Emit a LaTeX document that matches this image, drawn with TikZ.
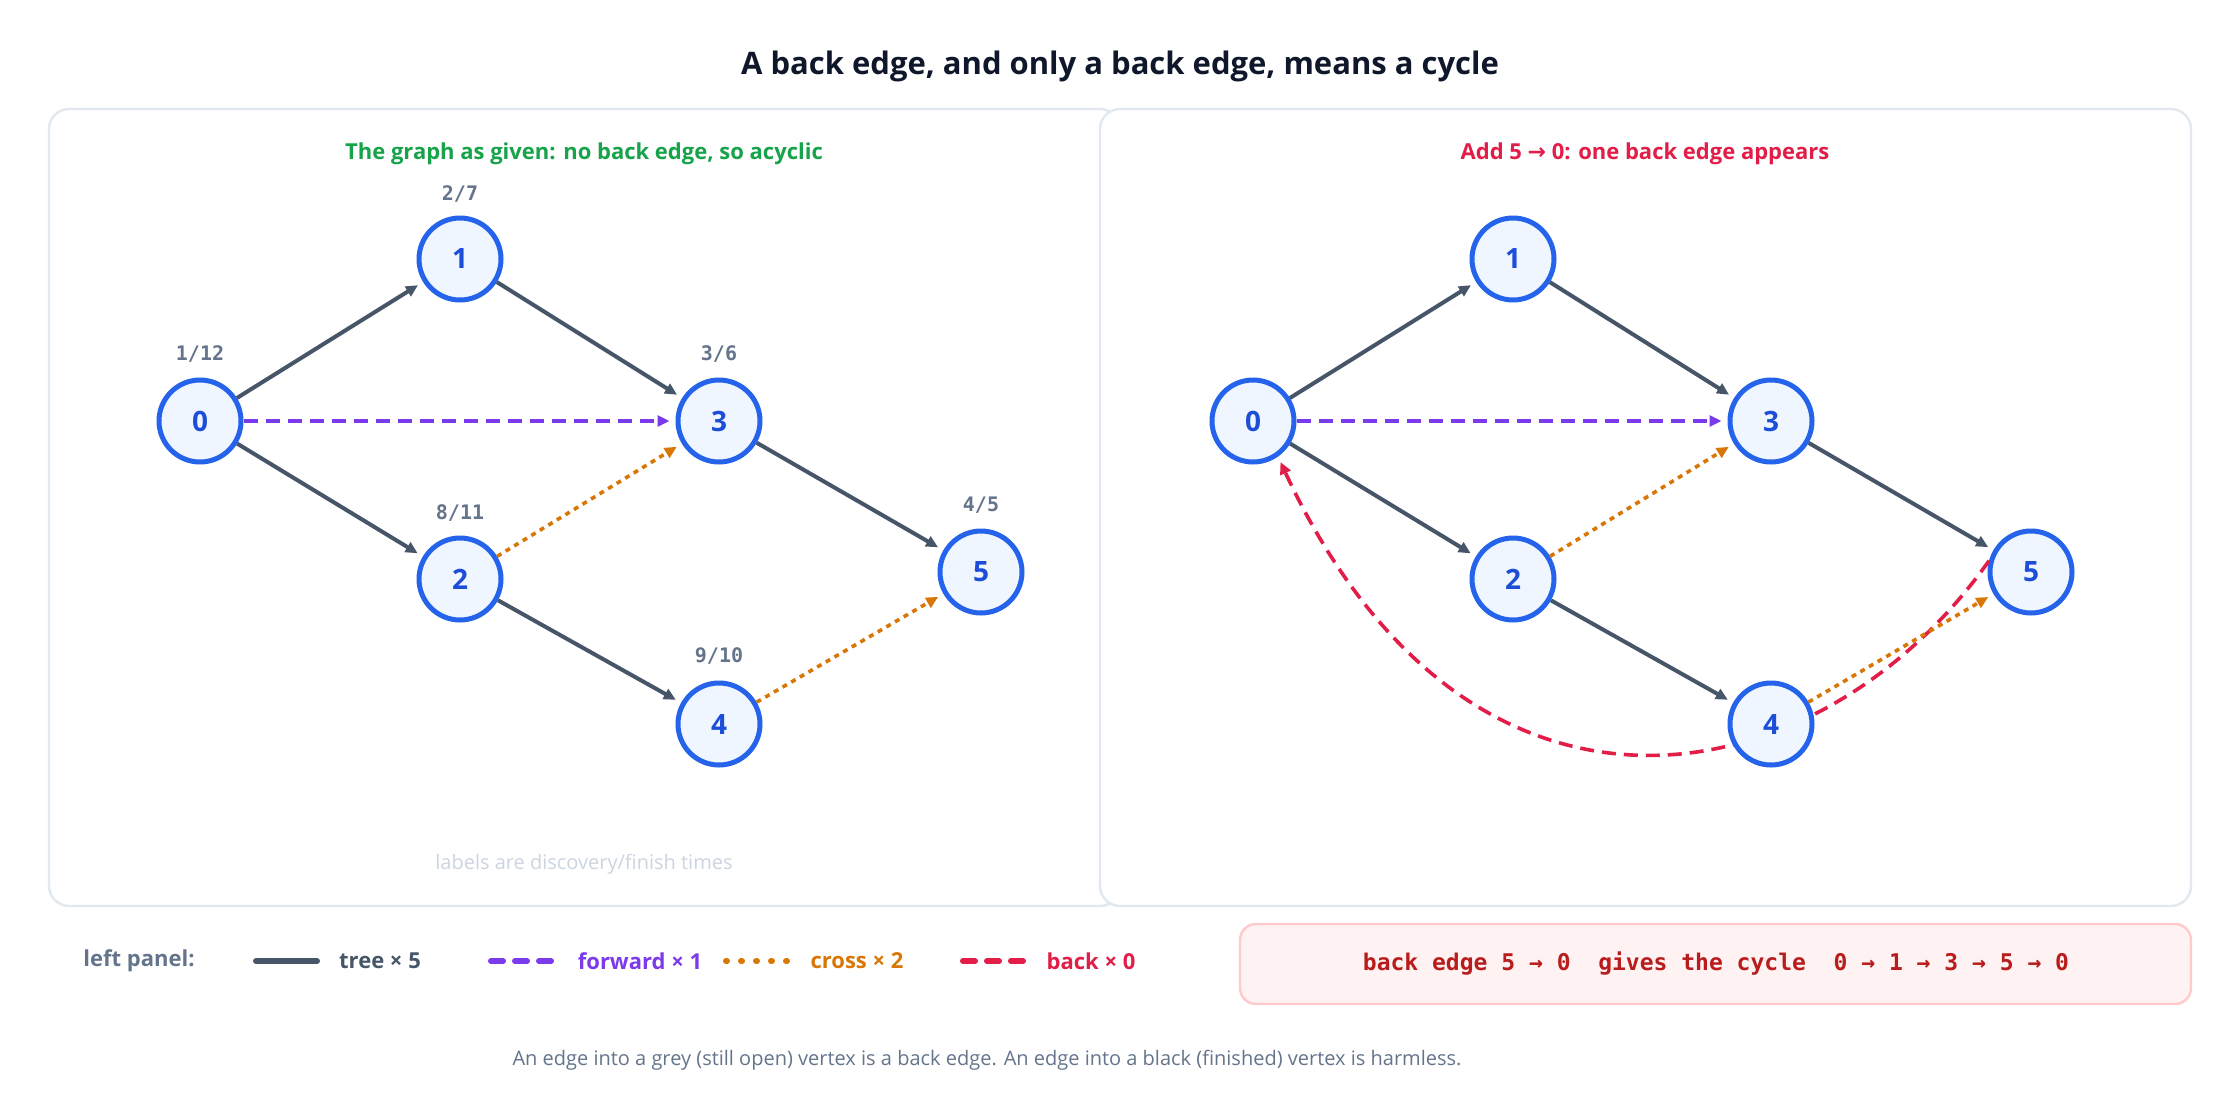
\documentclass[tikz,border=0pt]{standalone}
\usepackage{fontspec}
\setmainfont{Open Sans}
\setmonofont{DejaVu Sans Mono}
\newfontfamily\symf{DejaVu Sans}
\usetikzlibrary{arrows.meta}
\definecolor{tree}{HTML}{475569}
\definecolor{fwd}{HTML}{7C3AED}
\definecolor{crs}{HTML}{D97706}
\definecolor{bck}{HTML}{E11D48}
\definecolor{nstroke}{HTML}{2563EB}
\definecolor{nfill}{HTML}{EFF6FF}
\definecolor{ntext}{HTML}{1D4ED8}
\definecolor{lab}{HTML}{64748B}
\definecolor{pborder}{HTML}{E2E8F0}
\definecolor{grn}{HTML}{16A34A}
\definecolor{ttl}{HTML}{0F172A}
\definecolor{rfill}{HTML}{FEF2F2}
\definecolor{rbord}{HTML}{FECACA}
\definecolor{rtext}{HTML}{B91C1C}
\definecolor{faint}{HTML}{CBD5E1}
\begin{document}
\begin{tikzpicture}[x=0.5pt,y=-0.5pt,
  vx/.style={circle,draw=nstroke,fill=nfill,line width=2.5pt,minimum size=41pt,inner sep=0pt,text=ntext,font=\fontsize{14}{16}\selectfont\bfseries},
  tm/.style={text=lab,font=\ttfamily\bfseries\fontsize{10}{12}\selectfont},
  tip/.style={-{Triangle[length=6pt,width=5.5pt]}},
  treeE/.style={tip,draw=tree,line width=2pt,shorten >=3pt},
  fwdE/.style={tip,draw=fwd,line width=1.8pt,dash pattern=on 7pt off 4pt,shorten >=3pt},
  crsE/.style={tip,draw=crs,line width=1.8pt,dash pattern=on 2.5pt off 2.5pt,shorten >=3pt},
  bckE/.style={tip,draw=bck,line width=1.8pt,dash pattern=on 7pt off 4pt,shorten >=3pt},
  panel/.style={draw=pborder,line width=1.2pt,rounded corners=10pt,fill=white},
  ptitle/.style={font=\bfseries\fontsize{11}{13}\selectfont},
  leg/.style={font=\bfseries\fontsize{11}{13}\selectfont}]
\useasboundingbox (0,0) rectangle (2240,1120);
\node[font=\bfseries\fontsize{15.5}{18}\selectfont,text=ttl] (title) at (1120,66) {A back edge, and only a back edge, means a cycle};
\draw[panel] (49,109) rectangle (1120,906);
\draw[panel] (1100,109) rectangle (2191,906);
\node[ptitle,text=grn] (lt) at (584,154) {The graph as given: no back edge, so acyclic};
\node[ptitle,text=bck] (rt) at (1645,154) {Add 5 {\symf →} 0: one back edge appears};
% left nodes
\node[vx] (L0) at (200,421) {0};
\node[vx] (L1) at (460,259) {1};
\node[vx] (L3) at (719,421) {3};
\node[vx] (L2) at (460,579) {2};
\node[vx] (L4) at (719,724) {4};
\node[vx] (L5) at (981,572) {5};
\node[tm] (l0) at (200,354) {1/12};
\node[tm] (l1) at (460,194) {2/7};
\node[tm] (l3) at (719,354) {3/6};
\node[tm] (l2) at (460,513) {8/11};
\node[tm] (l4) at (719,656) {9/10};
\node[tm] (l5) at (981,505) {4/5};
\draw[treeE] (L0) -- (L1);
\draw[treeE] (L1) -- (L3);
\draw[treeE] (L0) -- (L2);
\draw[treeE] (L2) -- (L4);
\draw[treeE] (L3) -- (L5);
\draw[fwdE] (L0) -- (L3);
\draw[crsE] (L2) -- (L3);
\draw[crsE] (L4) -- (L5);
\node[text=faint,font=\fontsize{10}{12}\selectfont] (note) at (584,864) {labels are discovery/finish times};
% right nodes
\node[vx] (R0) at (1253,421) {0};
\node[vx] (R1) at (1513,259) {1};
\node[vx] (R3) at (1771,421) {3};
\node[vx] (R2) at (1513,579) {2};
\node[vx] (R5) at (2031,572) {5};
\draw[treeE] (R0) -- (R1);
\draw[treeE] (R1) -- (R3);
\draw[treeE] (R0) -- (R2);
\draw[treeE] (R3) -- (R5);
\draw[fwdE] (R0) -- (R3);
\draw[crsE] (R2) -- (R3);
\draw[bckE] (R5.165) .. controls (1820,800) and (1470,870) .. (R0.-55);
\node[vx] (R4) at (1771,724) {4};
\draw[treeE] (R2) -- (R4);
\draw[crsE] (R4) -- (R5);
% legend
\node[leg,text=lab] (lp) at (139,961) {left panel:};
\coordinate (a1) at (256,961); \coordinate (a2) at (317,961);
\draw[tree,line width=3pt,line cap=round] (a1) -- (a2);
\node[leg,text=tree] (lg1) at (380,961) {tree × 5};
\coordinate (b1) at (491,961); \coordinate (b2) at (551,961);
\draw[fwd,line width=3pt,line cap=round,dash pattern=on 6pt off 6pt] (b1) -- (b2);
\node[leg,text=fwd] (lg2) at (640,961) {forward × 1};
\coordinate (c1) at (726,961); \coordinate (c2) at (790,961);
\draw[crs,line width=3pt,line cap=round,dash pattern=on 0.5pt off 7pt] (c1) -- (c2);
\node[leg,text=crs] (lg3) at (857,961) {cross × 2};
\coordinate (d1) at (963,961); \coordinate (d2) at (1024,961);
\draw[bck,line width=3pt,line cap=round,dash pattern=on 6pt off 6pt] (d1) -- (d2);
\node[leg,text=bck] (lg4) at (1091,961) {back × 0};
\draw[fill=rfill,draw=rbord,line width=1.2pt,rounded corners=8pt] (1240,924) rectangle (2191,1004);
\node[text=rtext,font=\ttfamily\bfseries\fontsize{11.5}{13}\selectfont] (cyc) at (1716,964) {back edge 5 → 0 \ gives the cycle \ 0 → 1 → 3 → 5 → 0};
\node[text=lab,font=\fontsize{10}{12}\selectfont] (foot) at (987,1060) {An edge into a grey (still open) vertex is a back edge. An edge into a black (finished) vertex is harmless.};
\end{tikzpicture}
\end{document}
